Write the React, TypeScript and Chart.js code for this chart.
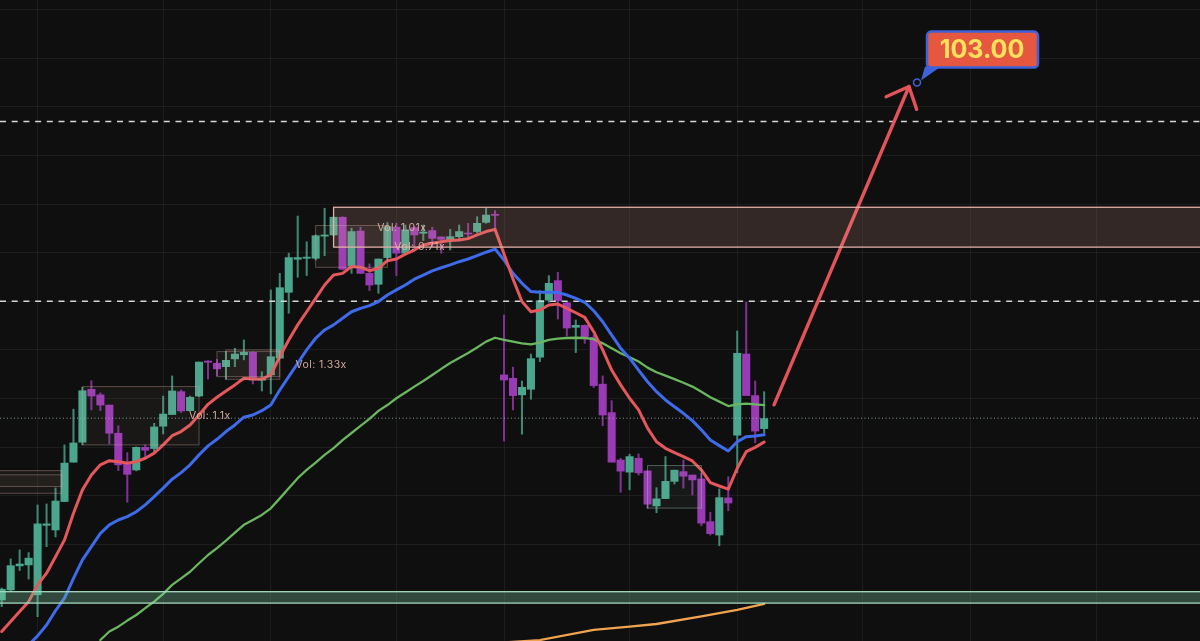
import React, { useEffect, useRef } from 'react';
import { Chart, registerables } from 'chart.js';

Chart.register(...registerables);

// candles, one per session
const opens = [81.71, 82.12, 83.11, 83.15, 81.92, 84.78, 84.59, 85.76, 87.38, 88.20, 90.38, 90.15, 89.73, 88.57, 87.38, 87.06, 87.99, 87.94, 88.86, 89.34, 90.28, 89.50, 90.10, 91.54, 91.45, 91.31, 91.63, 91.80, 91.90, 90.75, 90.97, 91.66, 94.37, 95.73, 95.77, 95.77, 96.68, 96.73, 97.46, 95.45, 96.89, 95.15, 94.70, 95.80, 97.05, 95.98, 97.03, 96.80, 96.91, 96.65, 96.54, 96.66, 96.81, 96.87, 97.25, 97.58, 90.97, 90.83, 90.15, 90.38, 91.70, 94.05, 94.85, 93.94, 92.93, 93.01, 92.52, 90.59, 89.42, 87.47, 86.97, 87.54, 87.02, 85.58, 85.88, 86.59, 86.99, 86.85, 86.69, 84.93, 84.38, 85.91, 88.49, 91.83, 90.12, 88.76];
const closes = [82.15, 83.12, 83.19, 83.43, 84.84, 84.84, 85.78, 87.34, 88.17, 90.32, 90.10, 89.73, 88.57, 87.27, 86.88, 87.99, 87.87, 88.83, 89.36, 90.31, 89.49, 90.05, 91.50, 91.49, 91.22, 91.57, 91.83, 91.90, 90.76, 90.80, 91.72, 94.56, 95.80, 95.80, 95.82, 96.70, 96.73, 97.46, 95.32, 96.87, 95.15, 94.67, 95.74, 97.07, 95.98, 96.94, 96.73, 96.85, 96.59, 96.55, 96.66, 96.87, 96.77, 97.21, 97.55, 97.54, 90.76, 90.12, 90.46, 91.64, 94.03, 94.74, 94.03, 92.90, 93.01, 92.54, 90.53, 89.32, 87.38, 87.01, 87.61, 86.94, 85.65, 85.87, 86.59, 87.05, 86.80, 86.65, 84.87, 84.44, 85.92, 85.70, 91.86, 90.12, 88.66, 89.17];
const highs = [82.20, 83.40, 83.77, 83.66, 85.62, 85.66, 86.32, 88.09, 89.56, 90.46, 90.73, 90.23, 89.73, 88.88, 87.77, 88.01, 88.09, 88.98, 90.10, 90.93, 90.35, 90.10, 91.50, 91.56, 91.61, 91.93, 92.07, 92.41, 91.92, 91.10, 94.47, 95.15, 95.98, 97.51, 96.45, 96.73, 97.83, 97.47, 97.48, 97.01, 97.05, 95.54, 95.74, 97.24, 97.21, 97.14, 97.07, 97.14, 97.05, 96.65, 96.96, 97.14, 97.21, 97.48, 97.83, 97.73, 93.44, 91.29, 90.72, 91.83, 94.44, 95.06, 95.19, 93.97, 93.23, 93.03, 92.61, 90.93, 89.91, 87.54, 87.71, 87.72, 87.02, 86.33, 87.61, 87.05, 87.47, 86.85, 86.92, 85.32, 86.28, 86.78, 92.78, 93.96, 90.72, 90.28];
const lows = [81.43, 82.05, 82.92, 82.57, 81.02, 83.90, 84.30, 85.76, 87.38, 88.09, 89.53, 89.50, 88.13, 87.03, 85.73, 87.02, 87.58, 87.81, 88.54, 89.34, 89.42, 89.50, 90.08, 90.80, 90.93, 90.79, 91.31, 91.59, 90.60, 90.31, 90.19, 91.66, 93.51, 94.99, 95.06, 95.70, 95.88, 96.69, 95.29, 95.15, 95.15, 94.44, 94.33, 95.70, 95.06, 95.98, 96.14, 96.50, 96.25, 95.98, 96.11, 96.52, 96.59, 96.82, 97.21, 96.87, 88.25, 89.53, 88.53, 89.97, 91.52, 93.96, 93.27, 92.57, 91.89, 92.27, 90.45, 88.88, 87.38, 86.14, 86.24, 86.85, 85.48, 85.30, 85.88, 86.48, 86.31, 86.03, 84.76, 84.38, 83.94, 85.38, 86.95, 90.12, 88.18, 88.57];

// moving averages
const redLine = [80.41, 80.82, 81.23, 81.64, 82.33, 82.81, 83.49, 84.18, 85.28, 86.24, 86.85, 87.27, 87.44, 87.40, 87.34, 87.40, 87.54, 87.75, 88.09, 88.47, 88.64, 88.91, 89.32, 89.76, 90.05, 90.31, 90.56, 90.83, 90.80, 90.80, 90.97, 91.72, 92.41, 93.03, 93.57, 94.12, 94.67, 95.08, 95.15, 95.43, 95.40, 95.26, 95.36, 95.67, 95.74, 95.94, 96.11, 96.32, 96.39, 96.45, 96.50, 96.52, 96.58, 96.73, 96.87, 96.96, 95.95, 94.92, 93.99, 93.57, 93.64, 93.85, 93.89, 93.71, 93.53, 93.34, 92.75, 92.00, 91.17, 90.56, 90.01, 89.53, 88.78, 88.22, 87.95, 87.77, 87.61, 87.43, 87.06, 86.54, 86.40, 86.27, 87.13, 87.81, 87.99, 88.21];
const blueLine = [null, null, null, 79.86, 80.23, 80.68, 81.27, 81.78, 82.60, 83.36, 83.90, 84.45, 84.80, 85.00, 85.14, 85.34, 85.62, 85.96, 86.31, 86.68, 86.95, 87.27, 87.68, 88.05, 88.32, 88.64, 88.91, 89.23, 89.32, 89.50, 89.73, 90.35, 90.90, 91.45, 92.00, 92.48, 92.82, 93.03, 93.30, 93.57, 93.71, 93.82, 93.99, 94.26, 94.47, 94.67, 94.91, 95.08, 95.25, 95.38, 95.50, 95.63, 95.74, 95.88, 96.02, 96.15, 95.70, 95.15, 94.74, 94.40, 94.37, 94.37, 94.36, 94.26, 94.12, 93.96, 93.61, 93.16, 92.61, 92.07, 91.66, 91.17, 90.69, 90.28, 89.94, 89.66, 89.39, 89.09, 88.71, 88.29, 88.06, 87.84, 88.22, 88.43, 88.46, 88.51];
const greenLine = [null, null, null, null, null, null, null, null, null, null, null, 80.06, 80.41, 80.61, 80.86, 81.09, 81.37, 81.64, 81.96, 82.33, 82.60, 82.87, 83.22, 83.56, 83.84, 84.15, 84.48, 84.80, 85.00, 85.21, 85.48, 85.89, 86.31, 86.72, 87.06, 87.36, 87.68, 87.96, 88.29, 88.58, 88.87, 89.16, 89.49, 89.73, 90.01, 90.25, 90.49, 90.72, 90.97, 91.22, 91.46, 91.67, 91.87, 92.10, 92.34, 92.50, 92.41, 92.34, 92.27, 92.23, 92.30, 92.41, 92.46, 92.49, 92.50, 92.49, 92.44, 92.27, 92.07, 91.86, 91.70, 91.52, 91.27, 91.08, 90.94, 90.80, 90.65, 90.49, 90.28, 90.05, 89.87, 89.69, 89.76, 89.79, 89.76, 89.73];
const orangeIdx = [56, 60, 66, 70, 73, 78, 82, 85];
const orangeVals = [79.96, 80.06, 80.48, 80.61, 80.72, 81.03, 81.30, 81.55];

// horizontal levels
const dashedLevels = [101.4, 94.0];
const dottedLevel = 89.19;

// projection arrow, in [session, price]
const arrowShaft = [[86.1, 89.74], [101.15, 102.84]];
const arrowHead = [[98.6, 102.42], [101.15, 102.84], [102.0, 101.9]];
const target = { x: 102.04, price: 103.0, label: '103.00' };

// zones: [session from, session to, price low, price high]
const resistanceZone = [37, 134, 96.23, 97.87];
const supportZone = [-1, 134, 81.58, 82.05];
const warmBoxes = [[9, 22, 88.09, 90.49], [24, 31, 90.9, 91.93], [25, 31, 90.79, 92.0], [35, 43, 95.4, 97.12], [-1, 6.7, 86.38, 87.03], [-1, 6.7, 86.1, 86.86]];
const coolBoxes = [[72, 78, 85.49, 87.24]];

const volLabels = ['Vol: 1.1x', 'Vol: 1.33x', 'Vol: 1.01x', 'Vol: 0.71x'];
const volAt = [[23.2, 89.28], [35.6, 91.38], [44.6, 97.03], [46.6, 96.25]];

// grid positions
const xTicks = [4, 18, 30, 44, 56, 70, 82, 96, 108, 122];
const yTicks = [82, 84, 86, 88, 90, 92, 94, 96, 98, 100, 102, 104, 106];

const BG = '#0f0f0f';
const UP = '#4aa68d';
const DOWN = '#9a3ab4';
const GRID = 'rgba(255,255,255,0.055)';

const isUp = (i: number) => closes[i] >= opens[i];
const toPoints = (vals: (number | null)[]) => vals.map((y, x) => ({ x, y }));
const toPairs = (pts: number[][]) => pts.map(([x, y]) => ({ x, y }));

const overlayPlugin = {
    id: 'overlays',
    afterDatasetsDraw(chart: any) {
        const { ctx, scales } = chart;
        const px = (v: number) => scales.x.getPixelForValue(v);
        const py = (v: number) => scales.y.getPixelForValue(v);

        const zone = (z: number[], fill: string, stroke: string, lw: number) => {
            const x = px(z[0]);
            const w = px(z[1]) - x;
            const y = py(z[3]);
            const h = py(z[2]) - y;
            ctx.fillStyle = fill;
            ctx.fillRect(x, y, w, h);
            ctx.strokeStyle = stroke;
            ctx.lineWidth = lw;
            ctx.strokeRect(x, y, w, h);
        };

        ctx.save();
        warmBoxes.forEach((b) => zone(b, 'rgba(210,170,160,0.06)', 'rgba(210,170,160,0.38)', 1));
        coolBoxes.forEach((b) => zone(b, 'rgba(170,210,190,0.05)', 'rgba(170,210,190,0.4)', 1));
        zone(resistanceZone, 'rgba(230,165,155,0.17)', '#e2b0a6', 1.3);
        zone(supportZone, 'rgba(130,210,170,0.3)', '#a3d8bd', 1.3);

        // volume labels
        ctx.font = '10.5px Inter';
        (ctx as any).letterSpacing = '0.4px';
        ctx.fillStyle = 'rgba(228,184,172,0.9)';
        ctx.textAlign = 'center';
        ctx.textBaseline = 'middle';
        volLabels.forEach((t, i) => ctx.fillText(t, px(volAt[i][0]), py(volAt[i][1])));
        (ctx as any).letterSpacing = '0px';

        // price target callout
        const tx = px(target.x);
        const ty = py(target.price);
        ctx.fillStyle = '#3f62d8';
        ctx.beginPath();
        ctx.moveTo(tx + 4, ty - 2);
        ctx.lineTo(tx + 8, ty - 16);
        ctx.lineTo(tx + 24, ty - 16);
        ctx.closePath();
        ctx.fill();

        ctx.beginPath();
        ctx.roundRect(tx + 10, ty - 51, 111, 36, 4);
        ctx.fillStyle = '#e5583f';
        ctx.fill();
        ctx.strokeStyle = '#3f62d8';
        ctx.lineWidth = 2.5;
        ctx.stroke();

        ctx.font = '700 25px Inter';
        ctx.fillStyle = '#ffe25c';
        ctx.fillText(target.label, tx + 65, ty - 32);

        ctx.beginPath();
        ctx.arc(tx, ty, 3.5, 0, Math.PI * 2);
        ctx.fillStyle = BG;
        ctx.fill();
        ctx.strokeStyle = '#3f62d8';
        ctx.lineWidth = 1.5;
        ctx.stroke();
        ctx.restore();
    },
};

const lineBase = { type: 'line', pointRadius: 0, borderCapStyle: 'round', borderJoinStyle: 'round', tension: 0, fill: false };

export default function App() {
    const chartRef = useRef<HTMLCanvasElement>(null);

    useEffect(() => {
        if (!chartRef.current) return;
        const chart = new Chart(chartRef.current, {
            type: 'bar',
            plugins: [overlayPlugin],
            data: {
                datasets: [
                    {
                        label: 'wicks',
                        order: 7,
                        data: highs.map((h, i) => ({ x: i, y: [lows[i], h] })),
                        backgroundColor: opens.map((_, i) => (isUp(i) ? 'rgba(74,166,141,0.8)' : 'rgba(154,58,180,0.8)')),
                        grouped: false,
                        maxBarThickness: 1.4,
                        barPercentage: 1,
                        categoryPercentage: 1,
                    },
                    {
                        label: 'bodies',
                        order: 6,
                        data: opens.map((o, i) => ({ x: i, y: [o, closes[i]] })),
                        backgroundColor: opens.map((_, i) => (isUp(i) ? UP : DOWN)),
                        grouped: false,
                        maxBarThickness: 7.4,
                        barPercentage: 1,
                        categoryPercentage: 1,
                    },
                    ...dashedLevels.map((lv) => ({
                        ...lineBase,
                        label: 'level',
                        order: 4,
                        data: [{ x: -0.19, y: lv }, { x: 134, y: lv }],
                        borderColor: '#d6d6d6',
                        borderWidth: 1.4,
                        borderDash: [6, 5.7],
                        borderCapStyle: 'butt',
                    })),
                    {
                        ...lineBase,
                        label: 'last',
                        order: 5,
                        data: [{ x: -0.19, y: dottedLevel }, { x: 134, y: dottedLevel }],
                        borderColor: 'rgba(170,205,190,0.75)',
                        borderWidth: 1,
                        borderDash: [1, 2.5],
                        borderCapStyle: 'butt',
                    },
                    { ...lineBase, label: 'orange', order: 3, data: orangeIdx.map((x, i) => ({ x, y: orangeVals[i] })), borderColor: '#f0a44f', borderWidth: 2.3 },
                    { ...lineBase, label: 'green', order: 3, data: toPoints(greenLine), borderColor: '#6ab75f', borderWidth: 2.3 },
                    { ...lineBase, label: 'blue', order: 2, data: toPoints(blueLine), borderColor: '#3d6bea', borderWidth: 3 },
                    { ...lineBase, label: 'red', order: 1, data: toPoints(redLine), borderColor: '#e4575a', borderWidth: 3 },
                    { ...lineBase, label: 'arrow', order: 0, data: toPairs(arrowShaft), borderColor: '#e2545a', borderWidth: 3.4 },
                    { ...lineBase, label: 'arrowHead', order: 0, data: toPairs(arrowHead), borderColor: '#e2545a', borderWidth: 3.4 },
                ],
            } as any,
            options: {
                responsive: false,
                animation: false,
                events: [],
                layout: { padding: 0 },
                plugins: { legend: { display: false }, tooltip: { enabled: false } },
                scales: {
                    x: {
                        type: 'linear',
                        offset: false,
                        min: -0.19,
                        max: 133.59,
                        ticks: { display: false },
                        border: { display: false },
                        grid: { color: GRID, drawTicks: false, offset: false },
                        afterBuildTicks: (axis: any) => {
                            axis.ticks = xTicks.map((value) => ({ value }));
                        },
                    },
                    y: {
                        min: 80.02,
                        max: 106.4,
                        ticks: { display: false },
                        border: { display: false },
                        grid: { color: GRID, drawTicks: false },
                        afterBuildTicks: (axis: any) => {
                            axis.ticks = yTicks.map((value) => ({ value }));
                        },
                    },
                },
            },
        } as any);
        return () => chart.destroy();
    }, []);

    return (
        <div style={{ position: 'fixed', left: 0, top: 0, width: 1200, height: 641, background: BG, overflow: 'hidden' }}>
            <canvas ref={chartRef} width={1200} height={641} style={{ display: 'block' }}></canvas>
        </div>
    );
}
